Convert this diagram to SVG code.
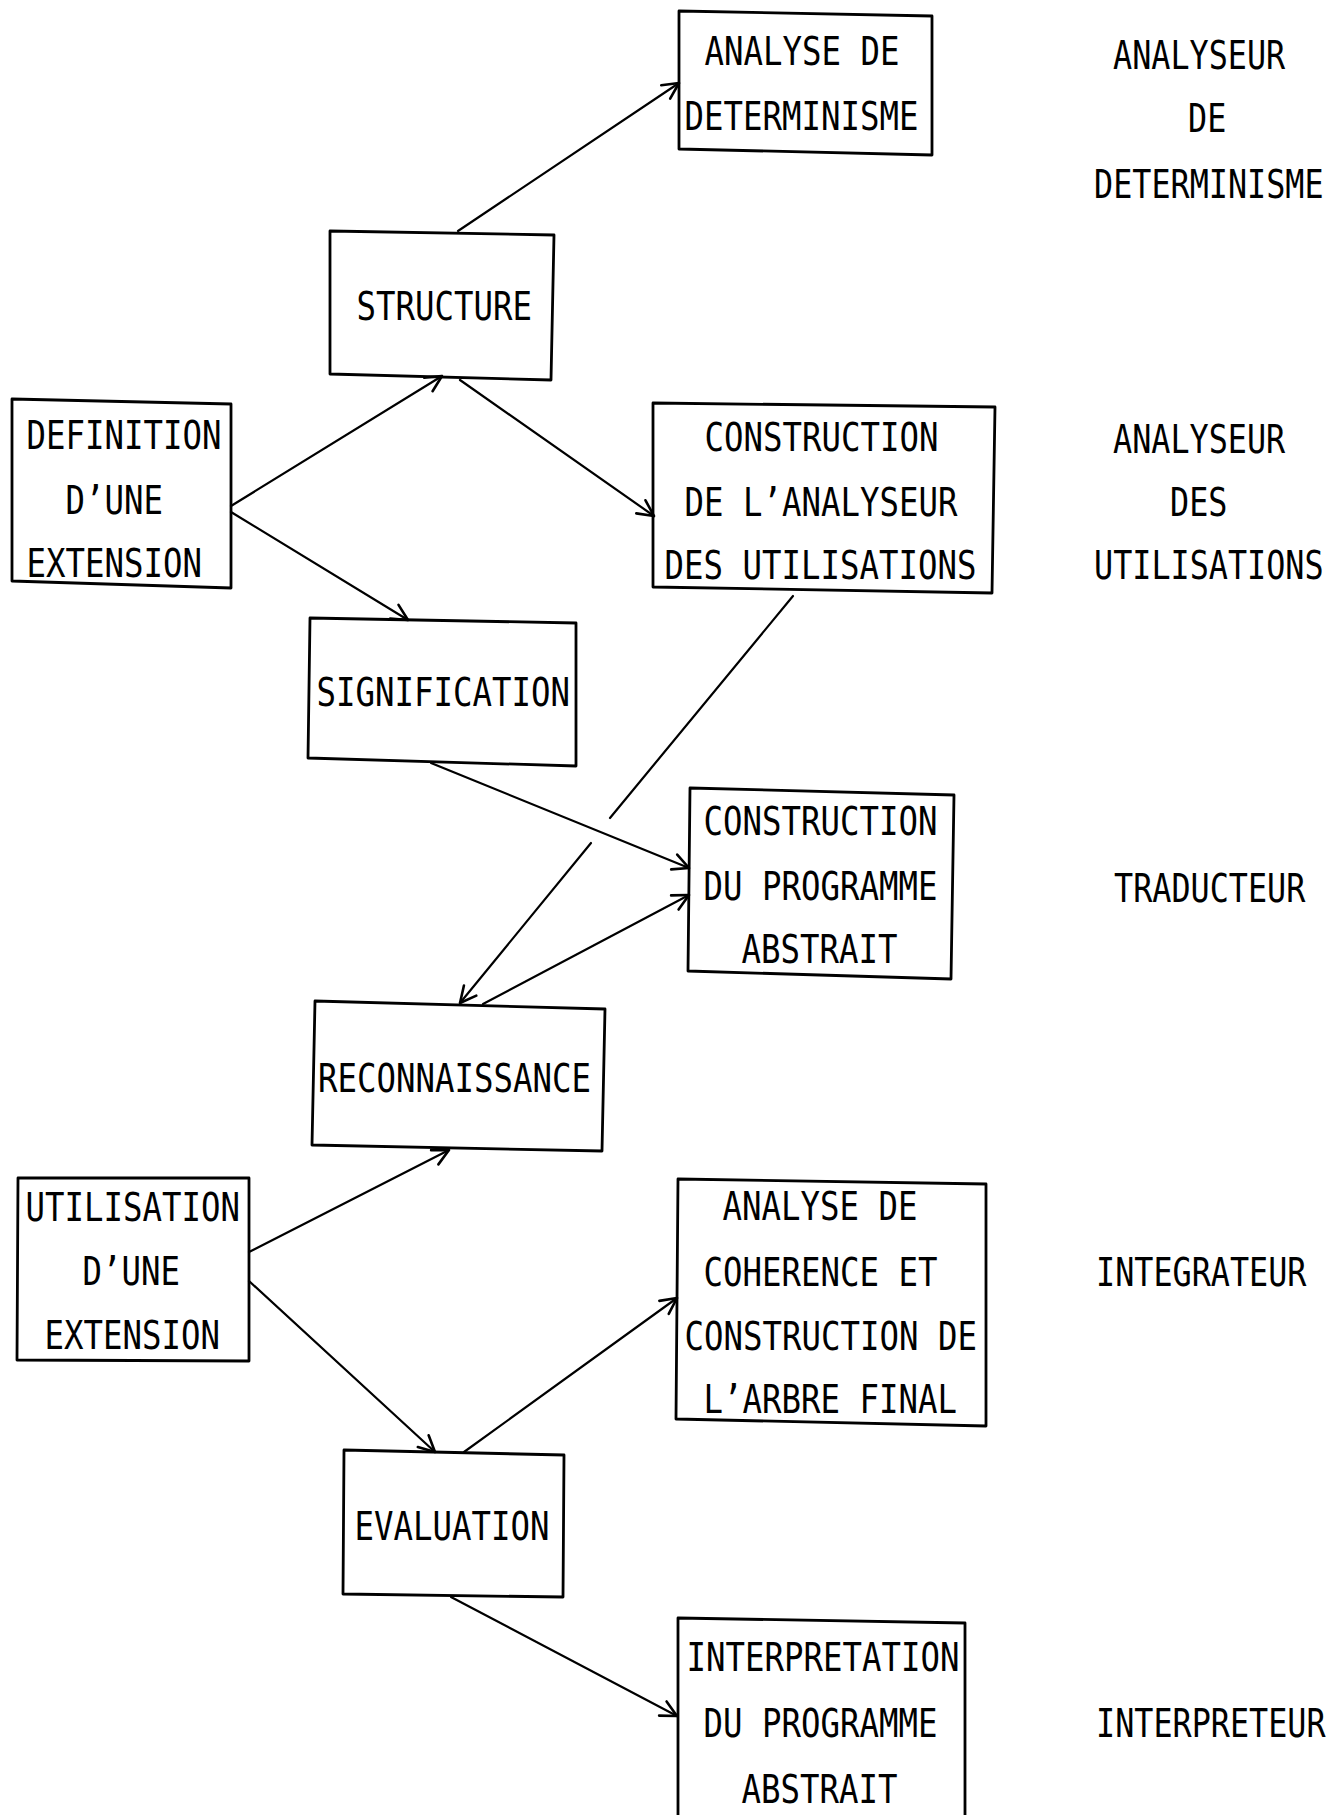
<svg xmlns="http://www.w3.org/2000/svg" width="1344" height="1815" viewBox="0 0 1344 1815">
  <style>
    .box { fill: none; stroke: #000; stroke-width: 2.8; stroke-linejoin: round; }
    .edge { fill: none; stroke: #000; stroke-width: 2.2; stroke-linecap: round; }
    .t { font-family: "DejaVu Sans Mono", "Liberation Mono", monospace; font-size: 39px; fill: #000; }
  </style>
  <defs>
    <marker id="arr" markerUnits="userSpaceOnUse" markerWidth="20" markerHeight="20" refX="16" refY="8" orient="auto" overflow="visible">
      <path d="M0,0 L16,8 L0,16" fill="none" stroke="#000" stroke-width="2.6" stroke-linecap="round" stroke-linejoin="round"/>
    </marker>
  </defs>
  <rect width="1344" height="1815" fill="#fff"/>

  <!-- connectors -->
  <g id="connectors">
    <line id="e-struct-det" class="edge" x1="458" y1="231" x2="679" y2="83" marker-end="url(#arr)"/>
    <line id="e-def-struct" class="edge" x1="231" y1="506" x2="442" y2="376" marker-end="url(#arr)"/>
    <line id="e-struct-cau" class="edge" x1="460" y1="380" x2="654" y2="516" marker-end="url(#arr)"/>
    <line id="e-def-sig" class="edge" x1="231" y1="512" x2="408" y2="620" marker-end="url(#arr)"/>
    <!-- broken where it crosses the SIGNIFICATION arrow -->
    <line id="e-cau-rec-a" class="edge" x1="793" y1="596" x2="610" y2="818"/>
    <line id="e-cau-rec-b" class="edge" x1="591" y1="843" x2="460" y2="1003" marker-end="url(#arr)"/>
    <line id="e-sig-cpa" class="edge" x1="431" y1="763" x2="689" y2="868" marker-end="url(#arr)"/>
    <line id="e-rec-cpa" class="edge" x1="483" y1="1004" x2="689" y2="895" marker-end="url(#arr)"/>
    <line id="e-util-rec" class="edge" x1="249" y1="1252" x2="449" y2="1150" marker-end="url(#arr)"/>
    <line id="e-util-eval" class="edge" x1="249" y1="1281" x2="435" y2="1452" marker-end="url(#arr)"/>
    <line id="e-eval-coh" class="edge" x1="464" y1="1452" x2="677" y2="1298" marker-end="url(#arr)"/>
    <line id="e-eval-int" class="edge" x1="451" y1="1597" x2="677" y2="1716" marker-end="url(#arr)"/>
  </g>

  <!-- process boxes -->
  <g id="n-det">
    <polygon class="box" points="679,11 932,16 932,155 679,149"/>
    <text class="t" x="704.5" y="65" textLength="195" lengthAdjust="spacingAndGlyphs">ANALYSE DE</text>
    <text class="t" x="684.5" y="130" textLength="234" lengthAdjust="spacingAndGlyphs">DETERMINISME</text>
  </g>
  <g id="n-struct">
    <polygon class="box" points="330,231 554,235 551,380 330,374"/>
    <text class="t" x="356.5" y="320" textLength="175.5" lengthAdjust="spacingAndGlyphs">STRUCTURE</text>
  </g>
  <g id="n-def">
    <polygon class="box" points="12,399 231,404 231,588 12,581"/>
    <text class="t" x="26.5" y="449" textLength="195" lengthAdjust="spacingAndGlyphs">DEFINITION</text>
    <text class="t" x="65.5" y="514" textLength="97.5" lengthAdjust="spacingAndGlyphs">D’UNE</text>
    <text class="t" x="26.5" y="577" textLength="175.5" lengthAdjust="spacingAndGlyphs">EXTENSION</text>
  </g>
  <g id="n-cau">
    <polygon class="box" points="653,403 995,407 992,593 653,587"/>
    <text class="t" x="704.5" y="451" textLength="234" lengthAdjust="spacingAndGlyphs">CONSTRUCTION</text>
    <text class="t" x="684.5" y="516" textLength="273" lengthAdjust="spacingAndGlyphs">DE L’ANALYSEUR</text>
    <text class="t" x="664.5" y="579" textLength="312" lengthAdjust="spacingAndGlyphs">DES UTILISATIONS</text>
  </g>
  <g id="n-sig">
    <polygon class="box" points="310,618 576,623 576,766 308,758"/>
    <text class="t" x="316.5" y="706" textLength="253.5" lengthAdjust="spacingAndGlyphs">SIGNIFICATION</text>
  </g>
  <g id="n-cpa">
    <polygon class="box" points="690,788 954,795 951,979 688,971"/>
    <text class="t" x="703.5" y="835" textLength="234" lengthAdjust="spacingAndGlyphs">CONSTRUCTION</text>
    <text class="t" x="703.5" y="900" textLength="234" lengthAdjust="spacingAndGlyphs">DU PROGRAMME</text>
    <text class="t" x="741.5" y="963" textLength="156" lengthAdjust="spacingAndGlyphs">ABSTRAIT</text>
  </g>
  <g id="n-rec">
    <polygon class="box" points="315,1001 605,1009 602,1151 312,1145"/>
    <text class="t" x="318" y="1092" textLength="273" lengthAdjust="spacingAndGlyphs">RECONNAISSANCE</text>
  </g>
  <g id="n-util">
    <polygon class="box" points="18,1178 249,1178 249,1361 17,1360"/>
    <text class="t" x="25.5" y="1221" textLength="214.5" lengthAdjust="spacingAndGlyphs">UTILISATION</text>
    <text class="t" x="82.5" y="1285" textLength="97.5" lengthAdjust="spacingAndGlyphs">D’UNE</text>
    <text class="t" x="44.5" y="1349" textLength="175.5" lengthAdjust="spacingAndGlyphs">EXTENSION</text>
  </g>
  <g id="n-coh">
    <polygon class="box" points="678,1179 986,1184 986,1426 676,1419"/>
    <text class="t" x="722.5" y="1220" textLength="195" lengthAdjust="spacingAndGlyphs">ANALYSE DE</text>
    <text class="t" x="703.5" y="1286" textLength="234" lengthAdjust="spacingAndGlyphs">COHERENCE ET</text>
    <text class="t" x="684.5" y="1350" textLength="292.5" lengthAdjust="spacingAndGlyphs">CONSTRUCTION DE</text>
    <text class="t" x="703.5" y="1413" textLength="253.5" lengthAdjust="spacingAndGlyphs">L’ARBRE FINAL</text>
  </g>
  <g id="n-eval">
    <polygon class="box" points="344,1450 564,1455 563,1597 343,1594"/>
    <text class="t" x="354.5" y="1540" textLength="195" lengthAdjust="spacingAndGlyphs">EVALUATION</text>
  </g>
  <g id="n-int">
    <!-- bottom edge runs off the sheet -->
    <path class="box" d="M678,1822 L678,1618 L965,1623 L965,1822"/>
    <text class="t" x="686.5" y="1671" textLength="273" lengthAdjust="spacingAndGlyphs">INTERPRETATION</text>
    <text class="t" x="703.5" y="1737" textLength="234" lengthAdjust="spacingAndGlyphs">DU PROGRAMME</text>
    <text class="t" x="741.5" y="1803" textLength="156" lengthAdjust="spacingAndGlyphs">ABSTRAIT</text>
  </g>

  <!-- component names, right column (condensed by a horizontal scale) -->
  <g id="labels">
    <g id="l-det">
      <text class="t" transform="translate(1113,69) scale(0.815,1)">ANALYSEUR</text>
      <text class="t" transform="translate(1188,132) scale(0.815,1)">DE</text>
      <text class="t" transform="translate(1094,198) scale(0.815,1)">DETERMINISME</text>
    </g>
    <g id="l-util">
      <text class="t" transform="translate(1113,453) scale(0.815,1)">ANALYSEUR</text>
      <text class="t" transform="translate(1170,516) scale(0.815,1)">DES</text>
      <text class="t" transform="translate(1094,579) scale(0.815,1)">UTILISATIONS</text>
    </g>
    <text id="l-trad" class="t" transform="translate(1114,902) scale(0.815,1)">TRADUCTEUR</text>
    <text id="l-integ" class="t" transform="translate(1096,1286) scale(0.815,1)">INTEGRATEUR</text>
    <text id="l-interp" class="t" transform="translate(1096,1737) scale(0.815,1)">INTERPRETEUR</text>
  </g>
</svg>
